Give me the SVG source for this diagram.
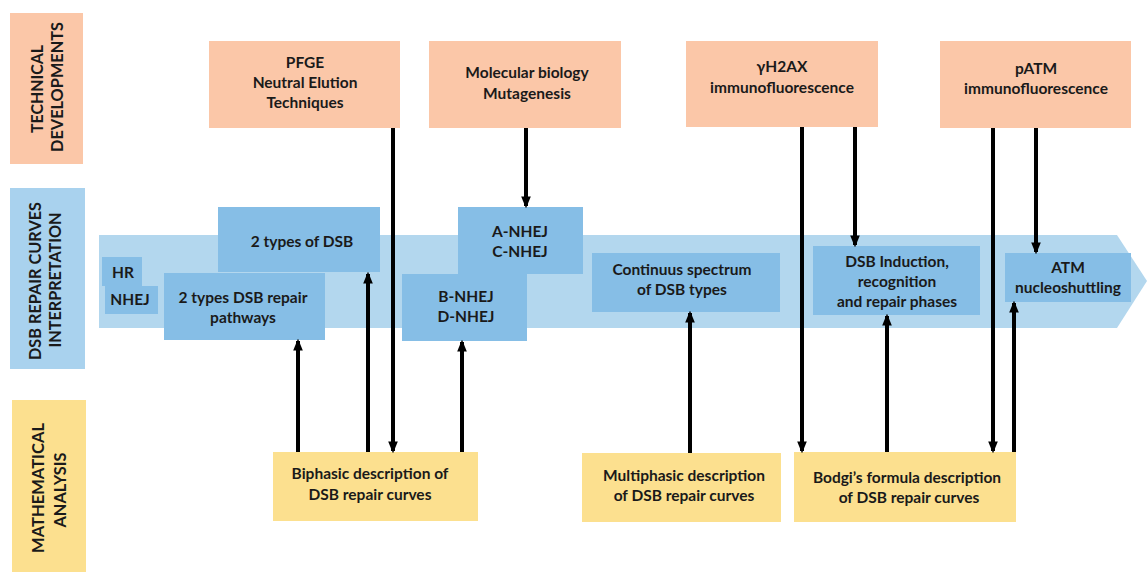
<svg xmlns="http://www.w3.org/2000/svg" width="1147" height="572" viewBox="0 0 1147 572">
<style>
text{font-family:Lato,"Liberation Sans",sans-serif;font-weight:bold;fill:#1a1a1a;text-anchor:middle;font-size:15.5px}
.lab{font-size:17px}
.tech{fill:#fbc7a8}
.blue{fill:#86bee6}
.band{fill:#b3d7ee}
.lblue{fill:#a9d2ee}
.yel{fill:#fce08f}
.c{stroke:#000;stroke-width:4;fill:none}
</style>
<defs>
<marker id="ah" viewBox="0 0 10 8" refX="8" refY="4" markerWidth="3" markerHeight="2.4" orient="auto" markerUnits="strokeWidth">
<path d="M0,0 L10,4 L0,8 z" fill="#000"/>
</marker>
</defs>
<rect width="1147" height="572" fill="#fff"/>
<g id="row-labels">
<g id="lab-tech"><rect class="tech" x="10" y="13" width="73" height="151"/>
<text class="lab" transform="translate(43,89) rotate(-90)" textLength="88" lengthAdjust="spacingAndGlyphs">TECHNICAL</text>
<text class="lab" transform="translate(63,87) rotate(-90)" textLength="130" lengthAdjust="spacingAndGlyphs">DEVELOPMENTS</text></g>
<g id="lab-dsb"><rect class="lblue" x="10" y="188" width="75" height="181"/>
<text class="lab" transform="translate(41,281) rotate(-90)" textLength="158" lengthAdjust="spacingAndGlyphs">DSB REPAIR CURVES</text>
<text class="lab" transform="translate(61,280) rotate(-90)" textLength="135" lengthAdjust="spacingAndGlyphs">INTERPRETATION</text></g>
<g id="lab-math"><rect class="yel" x="12" y="400" width="74" height="172"/>
<text class="lab" transform="translate(44,488) rotate(-90)" textLength="130" lengthAdjust="spacingAndGlyphs">MATHEMATICAL</text>
<text class="lab" transform="translate(66,490) rotate(-90)" textLength="75" lengthAdjust="spacingAndGlyphs">ANALYSIS</text></g>
</g>
<g id="band"><path class="band" d="M99,235 L1117,235 L1147,281 L1117,328 L99,328 Z"/></g>
<g id="pfge"><rect class="tech" x="209" y="41" width="191" height="87"/>
<text x="305" y="68">PFGE</text><text x="305" y="88">Neutral Elution</text><text x="305" y="108">Techniques</text></g>
<g id="molbio"><rect class="tech" x="429" y="41" width="192" height="87"/>
<text x="527" y="78">Molecular biology</text><text x="527" y="99">Mutagenesis</text></g>
<g id="h2ax"><rect class="tech" x="686" y="41" width="192" height="86"/>
<text x="782" y="72">γH2AX</text><text x="782" y="93">immunofluorescence</text></g>
<g id="patm"><rect class="tech" x="940" y="41" width="191" height="87"/>
<text x="1036" y="74">pATM</text><text x="1036" y="94">immunofluorescence</text></g>
<g id="hr"><rect class="blue" x="102" y="257" width="40" height="29"/><text x="123" y="278">HR</text></g>
<g id="nhej"><rect class="blue" x="105" y="286" width="53" height="28"/><text x="130" y="305">NHEJ</text></g>
<g id="types-dsb"><rect class="blue" x="218" y="207" width="162" height="65"/><text x="302" y="247">2 types of DSB</text></g>
<g id="types-path"><rect class="blue" x="164" y="273" width="161" height="67"/>
<text x="243" y="303">2 types DSB repair</text><text x="243" y="323">pathways</text></g>
<g id="ac-nhej"><rect class="blue" x="458" y="207" width="125" height="67"/>
<text x="520" y="237">A-NHEJ</text><text x="520" y="257">C-NHEJ</text></g>
<g id="bd-nhej"><rect class="blue" x="402" y="274" width="125" height="67"/>
<text x="466" y="302">B-NHEJ</text><text x="466" y="322">D-NHEJ</text></g>
<g id="continuus"><rect class="blue" x="592" y="253" width="188" height="59"/>
<text x="682" y="275">Continuus  spectrum</text><text x="682" y="295">of DSB types</text></g>
<g id="induction"><rect class="blue" x="813" y="246" width="167" height="69"/>
<text x="897" y="267">DSB Induction,</text><text x="897" y="287">recognition</text><text x="897" y="307">and repair phases</text></g>
<g id="atm"><rect class="blue" x="1005" y="253" width="126" height="49"/>
<text x="1068" y="273">ATM</text><text x="1068" y="293">nucleoshuttling</text></g>
<g id="biphasic"><rect class="yel" x="273" y="452" width="205" height="69"/>
<text x="370" y="479">Biphasic description of</text><text x="370" y="500">DSB repair curves</text></g>
<g id="multiphasic"><rect class="yel" x="582" y="453" width="199" height="69"/>
<text x="684" y="481">Multiphasic description</text><text x="684" y="501">of DSB repair curves</text></g>
<g id="bodgi"><rect class="yel" x="794" y="452" width="222" height="70"/>
<text x="907" y="483">Bodgi’s formula description</text><text x="909" y="503">of DSB repair curves</text></g>
<g id="connectors">
<line class="c" x1="393" y1="128" x2="393" y2="451" marker-end="url(#ah)"/>
<line class="c" x1="298" y1="452" x2="298" y2="341" marker-end="url(#ah)"/>
<line class="c" x1="368" y1="452" x2="368" y2="274" marker-end="url(#ah)"/>
<line class="c" x1="462" y1="452" x2="462" y2="342" marker-end="url(#ah)"/>
<line class="c" x1="526" y1="128" x2="526" y2="206" marker-end="url(#ah)"/>
<line class="c" x1="690" y1="453" x2="690" y2="313" marker-end="url(#ah)"/>
<line class="c" x1="802" y1="127" x2="802" y2="451" marker-end="url(#ah)"/>
<line class="c" x1="855" y1="127" x2="855" y2="245" marker-end="url(#ah)"/>
<line class="c" x1="993" y1="128" x2="993" y2="451" marker-end="url(#ah)"/>
<line class="c" x1="1036" y1="128" x2="1036" y2="252" marker-end="url(#ah)"/>
<line class="c" x1="887" y1="452" x2="887" y2="316" marker-end="url(#ah)"/>
<line class="c" x1="1014" y1="452" x2="1014" y2="303" marker-end="url(#ah)"/>
</g>
</svg>
